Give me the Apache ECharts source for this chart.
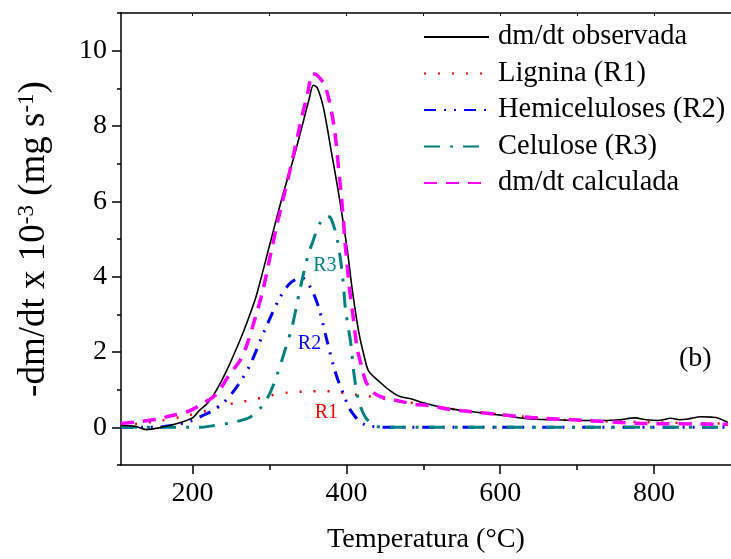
<!DOCTYPE html>
<html>
<head>
<meta charset="utf-8">
<script src="https://cdn.jsdelivr.net/npm/echarts@6/dist/echarts.min.js"></script>
<style>html,body{margin:0;padding:0;background:#fff;}#c{width:731px;height:559px;}</style>
</head>
<body>
<div id="c"></div>
<script>
const seriesNames = ['dm/dt observada', 'Lignina (R1)', 'Hemiceluloses (R2)', 'Celulose (R3)', 'dm/dt calculada'];

const tObs = [107,125,140,160,180,200,209,220,231,244,261,272,283,300,317,332,345,352,357,362,370,380,390,401,408,416,423,429,442,455,468,485,500,524,560,598,640,670,705,736,755,775,790,805,822,833,844,861,875,883,896];
const yObs = [0.05,0.03,-0.06,0.0,0.1,0.25,0.45,0.65,0.98,1.49,2.28,2.85,3.5,4.82,6.14,7.19,8.2,8.75,9.08,9.02,8.5,7.37,6.2,4.74,3.6,2.54,1.9,1.49,1.23,1.0,0.83,0.75,0.65,0.53,0.42,0.33,0.22,0.2,0.18,0.18,0.2,0.25,0.2,0.18,0.24,0.2,0.22,0.28,0.27,0.25,0.13];

const tLig = [107,129,160,190,218,239,260,282,300,323,345,365,384,405,427,451,470,492,520,555,590,632,697,762,805,850,896];
const yLig = [0.05,0.1,0.18,0.3,0.44,0.58,0.66,0.75,0.84,0.92,0.95,0.96,0.95,0.88,0.83,0.75,0.7,0.63,0.54,0.44,0.36,0.28,0.18,0.15,0.13,0.11,0.1];

const tHem = [107,135,170,200,213,226,240,252,265,276,293,313,328,343,356,365,375,384,391,397,403,410,416,425,434,450,600,896];
const yHem = [0,0,0.04,0.18,0.31,0.44,0.65,0.92,1.3,1.71,2.54,3.42,3.85,3.96,3.6,3.11,2.28,1.58,1.14,0.85,0.53,0.32,0.18,0.06,0.02,0,0,0];

const tCel = [107,209,226,252,274,289,300,310,321,330,339,350,356,365,375,380,388,395,399,406,410,416,425,438,450,896];
const yCel = [0,0,0.04,0.13,0.26,0.53,0.88,1.4,2.1,2.72,3.6,4.56,4.91,5.4,5.61,5.55,5.0,4.03,3.11,2.19,1.4,0.7,0.26,0.04,0,0];

const tCalc = [107,130,153,175,196,215,231,248,261,270,280,291,300,310,320,330,340,350,356,362,373,384,390,395,399,404,409,414,420,425,432,438,450,468,490,511,533,576,641,714,788,857,896];
const yCalc = [0.1,0.15,0.22,0.32,0.44,0.65,0.88,1.4,1.75,2.15,2.8,3.6,4.45,5.4,6.25,7.12,8.05,8.9,9.39,9.35,9.03,7.98,6.84,5.79,4.74,3.7,2.9,2.1,1.6,1.23,1.0,0.88,0.78,0.7,0.61,0.57,0.48,0.39,0.26,0.18,0.1,0.09,0.08];

const xMajor = [200,400,600,800];
const xMinor = [300,500,700];
const xTop = [200,300,400,500,600,700,800,900];
const yMajor = [0,2,4,6,8,10];
const yMinor = [-1,1,3,5,7,9,11];

// annotation labels [name, T, value]
const annR1 = ['R1', 374, 0.4];
const annR2 = ['R2', 352, 2.22];
const annR3 = ['R3', 372, 4.3];

const zip = (a, b) => a.map((v, i) => [v, b[i]]);
const FF = 'Liberation Serif';
const XMIN = 107, XMAX = 900, YMIN = -1, YMAX = 11;

function ann(a, color) {
  return {
    symbol: 'circle', symbolSize: 0, silent: true,
    label: { show: true, position: 'inside', formatter: a[0], color: color, fontFamily: FF, fontSize: 20 },
    data: [{ coord: [a[1], a[2]] }]
  };
}

const axisLineStyle = { color: '#000', width: 1.5 };

const chart = echarts.init(document.getElementById('c'), null, { renderer: 'canvas' });
chart.setOption({
  animation: false,
  backgroundColor: '#fff',
  grid: { left: 121, top: 13, width: 612, height: 455, containLabel: false },
  legend: {
    orient: 'vertical', left: 423, top: 22, padding: 0,
    itemWidth: 65, itemHeight: 14, itemGap: 6.5,
    itemStyle: { opacity: 0 },
    textStyle: { fontFamily: FF, fontSize: 28.5, color: '#000', lineHeight: 30, padding: [0, 0, 0, 4] },
    data: seriesNames
  },
  xAxis: [
    {
      type: 'value', position: 'bottom', min: XMIN, max: XMAX,
      axisLine: { show: true, onZero: false, lineStyle: axisLineStyle },
      axisTick: { show: true, customValues: xMajor, length: 9, inside: false, lineStyle: axisLineStyle },
      axisLabel: { show: true, customValues: xMajor, fontFamily: FF, fontSize: 28, color: '#000', margin: 15 },
      splitLine: { show: false },
      name: 'Temperatura (°C)', nameLocation: 'middle', nameGap: 61,
      nameTextStyle: { fontFamily: FF, fontSize: 28.2, color: '#000' }
    },
    {
      type: 'value', position: 'bottom', min: XMIN, max: XMAX,
      axisLine: { show: false, onZero: false },
      axisTick: { show: true, customValues: xMinor, length: 5, lineStyle: axisLineStyle },
      axisLabel: { show: false }, splitLine: { show: false }
    },
    {
      type: 'value', position: 'top', min: XMIN, max: XMAX,
      axisLine: { show: true, onZero: false, lineStyle: axisLineStyle },
      axisTick: { show: true, customValues: xTop, length: 3, inside: true, lineStyle: { color: '#000', width: 1 } },
      axisLabel: { show: false }, splitLine: { show: false }
    }
  ],
  yAxis: [
    {
      type: 'value', position: 'left', min: YMIN, max: YMAX,
      axisLine: { show: true, onZero: false, lineStyle: axisLineStyle },
      axisTick: { show: true, customValues: yMajor, length: 9, lineStyle: axisLineStyle },
      axisLabel: { show: true, customValues: yMajor, fontFamily: FF, fontSize: 28, color: '#000', margin: 14, padding: [5, 0, 0, 0] },
      splitLine: { show: false },
      name: '-dm/dt x 10{sup|-3} (mg s{sup|-1})', nameLocation: 'middle', nameGap: 68, nameRotate: 90,
      nameTextStyle: {
        fontFamily: FF, fontSize: 37, color: '#000',
        rich: { sup: { fontFamily: FF, fontSize: 23, color: '#000', verticalAlign: 'top', padding: [0, 0, 15, 0] } }
      }
    },
    {
      type: 'value', position: 'left', min: YMIN, max: YMAX,
      axisLine: { show: false, onZero: false },
      axisTick: { show: true, customValues: yMinor, length: 4, lineStyle: axisLineStyle },
      axisLabel: { show: false }, splitLine: { show: false }
    }
  ],
  graphic: [
    { type: 'text', left: 679, top: 345, style: { text: '(b)', font: '28px "Liberation Serif"', fill: '#000' } }
  ],
  series: [
    {
      name: seriesNames[0], type: 'line', xAxisIndex: 0, yAxisIndex: 0, data: zip(tObs, yObs),
      showSymbol: false, symbol: 'none', smooth: 0.3, z: 3,
      lineStyle: { color: '#000', width: 1.6, type: 'solid' }, itemStyle: { color: '#000' }
    },
    {
      name: seriesNames[1], type: 'line', data: zip(tLig, yLig),
      showSymbol: false, symbol: 'none', smooth: 0.3, z: 2,
      lineStyle: { color: '#ff0000', width: 2.5, type: [2, 12] }, itemStyle: { color: '#ff0000' },
      markPoint: ann(annR1, '#ff0000')
    },
    {
      name: seriesNames[2], type: 'line', data: zip(tHem, yHem),
      showSymbol: false, symbol: 'none', smooth: 0.3, z: 2,
      lineStyle: { color: '#0000ff', width: 3, type: [12, 8, 2, 8, 2, 8] }, itemStyle: { color: '#0000ff' },
      markPoint: ann(annR2, '#0000ff')
    },
    {
      name: seriesNames[3], type: 'line', data: zip(tCel, yCel),
      showSymbol: false, symbol: 'none', smooth: 0.3, z: 2,
      lineStyle: { color: '#008080', width: 3, type: [16, 10, 3, 10] }, itemStyle: { color: '#008080' },
      markPoint: ann(annR3, '#008080')
    },
    {
      name: seriesNames[4], type: 'line', data: zip(tCalc, yCalc),
      showSymbol: false, symbol: 'none', smooth: 0.3, z: 4,
      lineStyle: { color: '#ff00ff', width: 3.5, type: [13, 9] }, itemStyle: { color: '#ff00ff' }
    }
  ]
});
</script>
</body>
</html>
